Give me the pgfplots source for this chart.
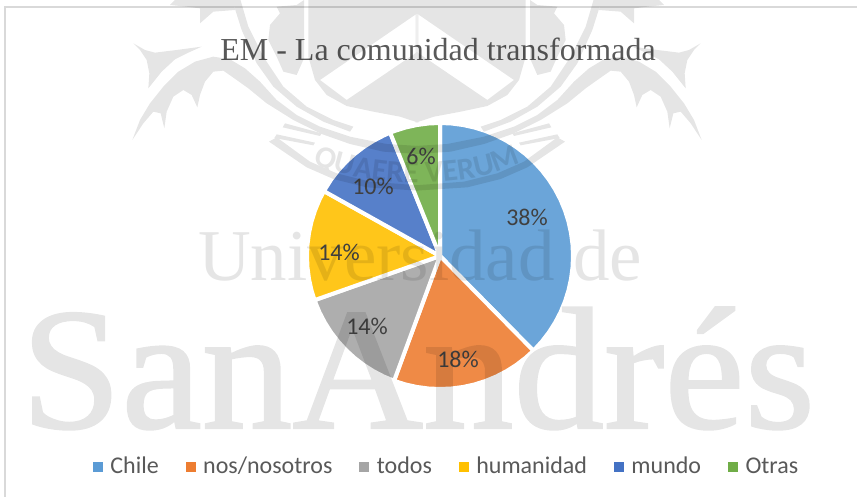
\documentclass[border=0pt]{standalone}
\usepackage{fontspec}
\setmainfont{Liberation Serif}
\newfontfamily\carlito{Carlito}
\newfontfamily\wmbold{Liberation Serif}[FakeBold=1.2]
\usepackage{pgfplots}
\pgfplotsset{compat=1.18}
\usetikzlibrary{decorations.text}
\definecolor{p1}{HTML}{6BA5D9}
\definecolor{p2}{HTML}{EF8A46}
\definecolor{p3}{HTML}{AEAEAE}
\definecolor{p4}{HTML}{FFC61A}
\definecolor{p5}{HTML}{5780CA}
\definecolor{p6}{HTML}{7EB559}
\definecolor{l1}{HTML}{5B9BD5}
\definecolor{l2}{HTML}{ED7D31}
\definecolor{l3}{HTML}{A5A5A5}
\definecolor{l4}{HTML}{FFC000}
\definecolor{l5}{HTML}{4472C4}
\definecolor{l6}{HTML}{70AD47}
\definecolor{frameg}{HTML}{D9D9D9}
\definecolor{titleg}{HTML}{595959}
\definecolor{labelg}{HTML}{404040}
\newcommand{\halfcrest}{%
  \fill (40,130) -- (75,150) -- (105,158) -- (170,150) -- (245,140) -- (205,158) -- (165,178) -- (125,215) -- (85,265) -- (88,220) -- (80,180) -- (60,150) -- cycle;
  \fill (37,420) -- (60,360) -- (90,310) -- (130,260) -- (175,215) -- (225,185) -- (280,170) -- (330,178) -- (375,205) -- (420,245) -- (470,300) -- (530,345) -- (600,380) -- (690,410) -- (800,432) -- (895,438) -- (895,462) -- (790,455) -- (690,432) -- (605,402) -- (520,360) -- (440,310) -- (385,265) -- (350,240) -- (310,212) -- (280,215) -- (255,245) -- (240,285) -- (232,322) -- (215,285) -- (190,270) -- (160,290) -- (140,335) -- (133,385) -- (122,340) -- (100,335) -- (70,370) -- cycle;
  \fill (495,370) -- (605,400) -- (600,408) -- (488,382) -- cycle;
  \fill (470,403) -- (585,428) -- (580,436) -- (463,414) -- cycle;
  \fill (447,425) -- (470,412) -- (570,485) -- (650,520) -- (750,545) -- (895,556) -- (895,572) -- (740,562) -- (640,537) -- (560,502) -- cycle;
  \fill[even odd rule] (565,-5) -- (565,170) -- (585,240) -- (620,285) -- (680,318) -- (760,335) -- (840,350) -- (895,368) -- (895,-5) -- cycle
        (600,240) -- (892,40) -- (892,156) -- (680,300) -- cycle;
  \fill (450,75) -- (480,40) -- (470,20) -- (530,15) -- (552,0) -- (552,175) -- (530,225) -- (490,215) -- (470,170) -- (445,120) -- cycle;
  \fill (150,15) -- (170,-5) -- (340,-5) -- (345,30) -- (280,35) -- (240,70) -- (240,25) -- (200,20) -- cycle;
  \fill (335,-5) -- (360,-5) -- (385,80) -- (430,170) -- (490,260) -- (560,320) -- (640,360) -- (700,380) -- (690,395) -- (610,365) -- (530,320) -- (460,260) -- (410,190) -- (365,90) -- cycle;
}
\begin{document}
\begin{tikzpicture}[x=1pt,y=1pt]
\path[use as bounding box] (0,0) rectangle (857,497);
\begin{axis}[
  at={(0,0)},anchor=south west,
  width=857pt,height=497pt,scale only axis,hide axis,clip=false,
  xmin=-440,xmax=417,ymin=-241,ymax=256,
  legend columns=6,
  legend cell align=left,
  legend style={at={(rel axis cs:0.1085,0.0624)},anchor=west,draw=none,fill=none,inner sep=0pt,outer sep=0pt,
    font=\carlito\fontsize{24}{26}\selectfont,text=titleg,
    nodes={inner sep=0pt,outer sep=0pt,anchor=base west},
    /tikz/every even column/.append style={column sep=27pt},
    /tikz/every odd column/.append style={column sep=8pt}},
]
\addlegendimage{legend image code/.code={\fill[l1] (0,2pt) rectangle (9pt,11pt);}}
\addlegendimage{legend image code/.code={\fill[l2] (0,2pt) rectangle (9pt,11pt);}}
\addlegendimage{legend image code/.code={\fill[l3] (0,2pt) rectangle (9pt,11pt);}}
\addlegendimage{legend image code/.code={\fill[l4] (0,2pt) rectangle (9pt,11pt);}}
\addlegendimage{legend image code/.code={\fill[l5] (0,2pt) rectangle (9pt,11pt);}}
\addlegendimage{legend image code/.code={\fill[l6] (0,2pt) rectangle (9pt,11pt);}}
\pgfplotsset{pie/.style={forget plot,data cs=polar,draw=white,line width=4pt,line join=round,no markers}}
\addplot[pie,fill=p1] coordinates {(0,0) (90,133) (85,133) (80,133) (75,133) (70,133) (65,133) (60,133) (55,133) (50,133) (45,133) (40,133) (35,133) (30,133) (25,133) (20,133) (15,133) (10,133) (5,133) (0,133) (-5,133) (-10,133) (-15,133) (-20,133) (-25,133) (-30,133) (-35,133) (-40,133) (-45,133) (-45.4,133) (0,0)};
\addplot[pie,fill=p2] coordinates {(0,0) (-45.4,133) (-50,133) (-55,133) (-60,133) (-65,133) (-70,133) (-75,133) (-80,133) (-85,133) (-90,133) (-95,133) (-100,133) (-105,133) (-110,133) (-110.2,133) (0,0)};
\addplot[pie,fill=p3] coordinates {(0,0) (-110.2,133) (-115,133) (-120,133) (-125,133) (-130,133) (-135,133) (-140,133) (-145,133) (-150,133) (-155,133) (-160,133) (-160.6,133) (0,0)};
\addplot[pie,fill=p4] coordinates {(0,0) (-160.6,133) (-165,133) (-170,133) (-175,133) (-180,133) (-185,133) (-190,133) (-195,133) (-200,133) (-205,133) (-209.2,133) (0,0)};
\addplot[pie,fill=p5] coordinates {(0,0) (150.8,133) (145,133) (140,133) (135,133) (130,133) (125,133) (120,133) (115,133) (112,133) (0,0)};
\addplot[pie,fill=p6] coordinates {(0,0) (112,133) (110,133) (105,133) (100,133) (95,133) (90,133) (0,0)};
\legend{Chile,nos/nosotros,todos,humanidad,mundo,Otras}
\node[text=labelg,font=\carlito\fontsize{24}{26}\selectfont] at (axis cs:87,39) {38\%};
\node[text=labelg,font=\carlito\fontsize{24}{26}\selectfont] at (axis cs:18,-103) {18\%};
\node[text=labelg,font=\carlito\fontsize{24}{26}\selectfont] at (axis cs:-73,-70) {14\%};
\node[text=labelg,font=\carlito\fontsize{24}{26}\selectfont] at (axis cs:-101,4) {14\%};
\node[text=labelg,font=\carlito\fontsize{24}{26}\selectfont] at (axis cs:-67,70) {10\%};
\node[text=labelg,font=\carlito\fontsize{24}{26}\selectfont] at (axis cs:-19,100) {6\%};
\node[text=titleg,font=\fontsize{32}{36}\selectfont] at (axis cs:-2,207) {EM - La comunidad transformada};
\end{axis}
\draw[frameg,line width=1.2pt] (5,0) -- (5,490) -- (857,490);
\begin{scope}[transparency group,opacity=0.1]
  \begin{scope}[shift={(120,497)},x=0.33333pt,y=-0.33333pt]
    \halfcrest
  \end{scope}
  \begin{scope}[shift={(714,497)},x=-0.33333pt,y=-0.33333pt]
    \halfcrest
  \end{scope}
  \path[decorate,decoration={text along path,text align=center,text={|\carlito\bfseries\fontsize{31}{31}\selectfont|QUAERE VERUM}}]
     (308,337) .. controls (360,307) and (474,307) .. (526,337);
  \node[anchor=base,font=\fontsize{73}{73}\selectfont,inner sep=0pt] at (420,216) {Universidad de};
  \node[anchor=base,font=\wmbold\fontsize{181}{181}\selectfont,inner sep=0pt,yscale=0.96,transform shape] at (418,69) {SanAndrés};
\end{scope}
\end{tikzpicture}
\end{document}
